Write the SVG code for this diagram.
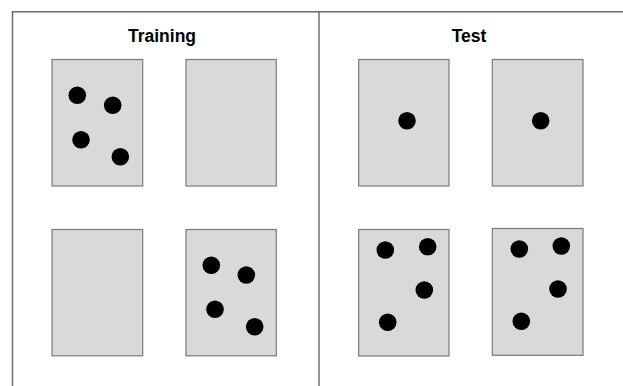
<svg xmlns="http://www.w3.org/2000/svg" width="623" height="386" viewBox="0 0 623 386">
<style>
.frame{stroke:#6e6e6e;stroke-width:1.5;fill:none}
.card{fill:#d9d9d9;stroke:#7a7a7a;stroke-width:1.2}
.dot{fill:#000}
.title{font-family:"Liberation Sans",Arial,sans-serif;font-weight:bold;font-size:17.5px;fill:#000;text-anchor:middle}
</style>
<rect width="623" height="386" fill="#fff"/>
<g id="frame">
<path class="frame" d="M12.5 386 V11.75 H623"/>
<path class="frame" d="M319 11.75 V386"/>
</g>
<g id="labels">
<text class="title" x="162" y="41.5">Training</text>
<text class="title" x="469" y="41.5">Test</text>
</g>
<g id="train-1">
<rect class="card" x="52" y="59.5" width="90.7" height="126.5"/>
<circle class="dot" cx="77.3" cy="95.3" r="8.8"/>
<circle class="dot" cx="112.7" cy="105.3" r="8.8"/>
<circle class="dot" cx="81" cy="139.7" r="8.8"/>
<circle class="dot" cx="120.3" cy="156.7" r="8.8"/>
</g>
<g id="train-2">
<rect class="card" x="186" y="59.5" width="90.3" height="126.5"/>
</g>
<g id="train-3">
<rect class="card" x="52" y="229.5" width="90.7" height="126.3"/>
</g>
<g id="train-4">
<rect class="card" x="186" y="229.5" width="90.3" height="126.3"/>
<circle class="dot" cx="211.3" cy="265.3" r="8.8"/>
<circle class="dot" cx="246.3" cy="275" r="8.8"/>
<circle class="dot" cx="215" cy="309.3" r="8.8"/>
<circle class="dot" cx="254.7" cy="326.7" r="8.8"/>
</g>
<g id="test-1">
<rect class="card" x="358.7" y="59.5" width="90.3" height="126.5"/>
<circle class="dot" cx="407" cy="120.7" r="8.8"/>
</g>
<g id="test-2">
<rect class="card" x="492.3" y="59.5" width="90.7" height="126.5"/>
<circle class="dot" cx="540.7" cy="120.7" r="8.8"/>
</g>
<g id="test-3">
<rect class="card" x="358.7" y="229.5" width="90.3" height="126.5"/>
<circle class="dot" cx="385.3" cy="250" r="8.8"/>
<circle class="dot" cx="427.7" cy="246.7" r="8.8"/>
<circle class="dot" cx="424.3" cy="290" r="8.8"/>
<circle class="dot" cx="387.7" cy="322.3" r="8.8"/>
</g>
<g id="test-4">
<rect class="card" x="492.3" y="228.5" width="90.7" height="126.8"/>
<circle class="dot" cx="519.3" cy="249" r="8.8"/>
<circle class="dot" cx="561.3" cy="246" r="8.8"/>
<circle class="dot" cx="558" cy="289" r="8.8"/>
<circle class="dot" cx="521.3" cy="321.3" r="8.8"/>
</g>
</svg>
